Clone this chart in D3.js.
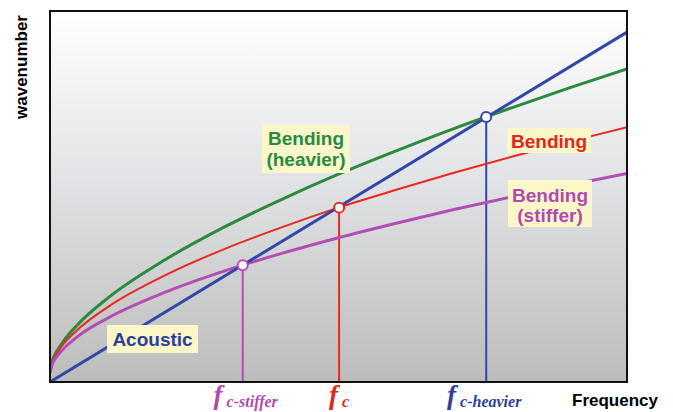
<!DOCTYPE html>
<html><head><meta charset="utf-8">
<script src="https://cdn.jsdelivr.net/npm/d3@7"></script>
<style>
html,body{margin:0;padding:0;background:#fff;}
svg{display:block;}
</style></head>
<body><svg id="chart" width="673" height="412"></svg>
<script>
// ---- data (frequency and wavenumber in arbitrary units 0..100) ----
const freq          = [0, 0.5, 1, 2, 5, 10, 20, 30, 40, 50, 60, 70, 80, 90, 100];
const bendingHeavier = [3.2, 6.2, 7.8, 10.3, 15.8, 22.6, 33.0, 41.6, 49.1, 56.0, 62.3, 68.3, 73.9, 79.3, 84.4];
const bending        = [2.7, 5.8, 7.3, 9.6, 14.4, 20.2, 28.8, 35.7, 41.6, 47.0, 51.8, 56.4, 60.7, 64.8, 68.7];
const bendingStiffer = [2.4, 5.2, 6.5, 8.4, 12.5, 17.2, 24.2, 29.8, 34.6, 38.9, 42.8, 46.5, 49.9, 53.1, 56.2];
const acousticFreq   = [0, 100];
const acoustic       = [0, 94.3];
const critNames      = ["stiffer", "c", "heavier"];
const critFreq       = [33.4, 50.1, 75.6];
const critWave       = [31.5, 47.0, 71.4];
const critSub        = ["c-stiffer", "c", "c-heavier"];

const W = 673, H = 412;
const plot = {l: 50, r: 627, t: 11, b: 382};
const svg = d3.select("#chart");

const x = d3.scaleLinear().domain([0, 100]).range([plot.l, plot.r]);
const y = d3.scaleLinear().domain([0, 100]).range([plot.b, plot.t]);

// background gradient
const defs = svg.append("defs");
const grad = defs.append("linearGradient").attr("id", "bg").attr("x1", 0).attr("y1", 0).attr("x2", 0).attr("y2", 1);
grad.append("stop").attr("offset", "0%").attr("stop-color", "#ffffff");
grad.append("stop").attr("offset", "45%").attr("stop-color", "#e2e3e6");
grad.append("stop").attr("offset", "100%").attr("stop-color", "#bcbcbc");
defs.append("clipPath").attr("id", "clip").append("rect")
  .attr("x", plot.l).attr("y", plot.t).attr("width", plot.r - plot.l).attr("height", plot.b - plot.t);

svg.append("rect").attr("x", plot.l).attr("y", plot.t)
  .attr("width", plot.r - plot.l).attr("height", plot.b - plot.t)
  .attr("fill", "url(#bg)");

const colors = {green: "#2b8a3e", red: "#e8291f", purple: "#b24db4", blue: "#3447a6"};
const textColors = {green: "#2a8a42", red: "#e3261c", purple: "#b04ab2", blue: "#2e3e9c"};

const line = d3.line().x(d => x(d[0])).y(d => y(d[1])).curve(d3.curveMonotoneX);
const g = svg.append("g").attr("clip-path", "url(#clip)");

// vertical lines at critical frequencies
const vColors = [colors.purple, colors.red, colors.blue];
critFreq.forEach((f, i) => {
  g.append("line").attr("x1", x(f)).attr("x2", x(f))
    .attr("y1", y(critWave[i])).attr("y2", y(0))
    .attr("stroke", vColors[i]).attr("stroke-width", 2);
});

const series = [
  {vals: bendingHeavier, c: colors.green, w: 3},
  {vals: bending, c: colors.red, w: 2},
  {vals: bendingStiffer, c: colors.purple, w: 3}
];
series.forEach(s => {
  g.append("path").datum(freq.map((f, i) => [f, s.vals[i]]))
    .attr("d", line).attr("fill", "none")
    .attr("stroke", s.c).attr("stroke-width", s.w);
});
g.append("path").datum(acousticFreq.map((f, i) => [f, acoustic[i]]))
  .attr("d", d3.line().x(d => x(d[0])).y(d => y(d[1])))
  .attr("fill", "none").attr("stroke", colors.blue).attr("stroke-width", 3);

// markers
const mColors = [colors.purple, colors.red, colors.blue];
critFreq.forEach((f, i) => {
  svg.append("circle").attr("cx", x(f)).attr("cy", y(critWave[i])).attr("r", 5)
    .attr("fill", "#fff").attr("stroke", mColors[i]).attr("stroke-width", 2);
});

// frame
svg.append("rect").attr("x", plot.l).attr("y", plot.t)
  .attr("width", plot.r - plot.l).attr("height", plot.b - plot.t)
  .attr("fill", "none").attr("stroke", "#111").attr("stroke-width", 2);

// label boxes
const font = "'Liberation Sans', Arial, sans-serif";
function boxLabel(lines, color, bx, by, bw, bh, baselines) {
  svg.append("rect").attr("x", bx).attr("y", by).attr("width", bw).attr("height", bh)
    .attr("fill", "#fbf7c9");
  lines.forEach((t, i) => {
    svg.append("text").attr("x", bx + bw / 2).attr("y", baselines[i])
      .attr("text-anchor", "middle").attr("font-family", font).attr("font-weight", "bold")
      .attr("font-size", 19).attr("fill", color).text(t);
  });
}
boxLabel(["Bending", "(heavier)"], textColors.green, 262, 125, 88, 48, [145, 166]);
boxLabel(["Bending"], textColors.red, 507, 128, 84, 25, [148]);
boxLabel(["Bending", "(stiffer)"], textColors.purple, 508, 180, 84, 47, [202, 222]);
boxLabel(["Acoustic"], textColors.blue, 107, 325, 91, 28, [346]);

// f labels
const fColors = [textColors.purple, textColors.red, textColors.blue];
const fShift = [3, 0, -2];
critFreq.forEach((f, i) => {
  const t = svg.append("text").attr("x", x(f) + fShift[i]).attr("y", 404)
    .attr("text-anchor", "middle").attr("font-family", "'Liberation Serif', 'Times New Roman', serif")
    .attr("font-style", "italic").attr("font-weight", "bold").attr("fill", fColors[i]);
  t.append("tspan").attr("font-size", 27).text("f");
  t.append("tspan").attr("font-size", 16).attr("dx", 4).attr("dy", 3).text(critSub[i]);
});

// axis titles
svg.append("text").attr("x", 572).attr("y", 406).attr("font-family", font)
  .attr("font-weight", "bold").attr("font-size", 17).attr("fill", "#000").text("Frequency");
svg.append("text").attr("transform", "translate(27,67) rotate(-90)")
  .attr("text-anchor", "middle").attr("font-family", font)
  .attr("font-weight", "bold").attr("font-size", 17).attr("fill", "#000").text("wavenumber");
</script></body></html>
